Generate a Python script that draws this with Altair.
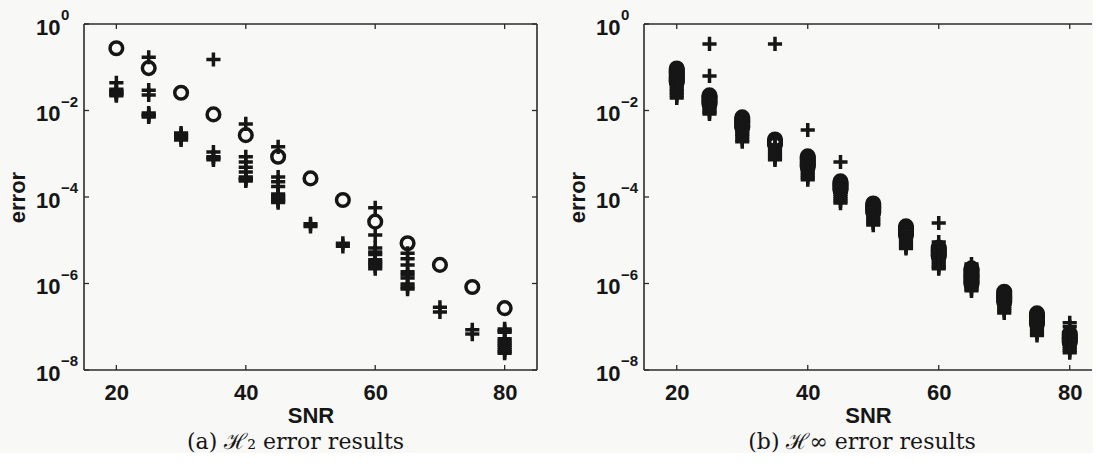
import altair as alt
import pandas as pd

# ---------------- data (errors stored as log10 exponents) ----------------
SNR = [20, 25, 30, 35, 40, 45, 50, 55, 60, 65, 70, 75, 80]
X_TICKS = [20, 40, 60, 80]
Y_TICK_EXP = [0, -2, -4, -6, -8]
Y_TICK_SUP = ["0", "\u22122", "\u22124", "\u22126", "\u22128"]

# (a) H2 error results
H2_CIRCLE_EXP = [
    [-0.56], [-1.02], [-1.59], [-2.09], [-2.57], [-3.07], [-3.57],
    [-4.07], [-4.57], [-5.07], [-5.57], [-6.08], [-6.57],
]
H2_PLUS_EXP = [
    [-1.36, -1.51, -1.54, -1.57, -1.60, -1.63, -1.66],
    [-0.77, -1.53, -1.64, -2.06, -2.09, -2.12, -2.15],
    [-2.52, -2.56, -2.60, -2.64, -2.68],
    [-0.82, -2.96, -3.07, -3.10, -3.14],
    [-2.31, -3.07, -3.19, -3.31, -3.42, -3.54, -3.57, -3.60, -3.63],
    [-2.84, -3.54, -3.65, -3.76, -3.93, -3.97, -4.01, -4.05, -4.09, -4.13],
    [-4.62, -4.68],
    [-5.07, -5.14],
    [-4.25, -4.88, -5.18, -5.27, -5.33, -5.45, -5.50, -5.55, -5.60, -5.66],
    [-5.30, -5.43, -5.57, -5.73, -5.80, -5.87, -6.01, -6.08, -6.13],
    [-6.55, -6.66],
    [-7.07, -7.17],
    [-7.05, -7.09, -7.13, -7.28, -7.33, -7.38, -7.43, -7.48, -7.53, -7.58, -7.61],
]

# (b) H-infinity error results
HINF_CIRCLE_EXP = [
    [-1.03, -1.07, -1.11, -1.15, -1.19, -1.23, -1.27, -1.31, -1.34],
    [-1.65, -1.69, -1.73, -1.77, -1.81, -1.85],
    [-2.16, -2.20, -2.24, -2.28, -2.32, -2.36, -2.39],
    [-2.67, -2.71, -2.75, -2.78],
    [-3.06, -3.10, -3.14, -3.18, -3.22, -3.26, -3.30],
    [-3.64, -3.68, -3.72, -3.76, -3.80, -3.84],
    [-4.15, -4.19, -4.23, -4.27, -4.31, -4.35],
    [-4.68, -4.72, -4.76, -4.80, -4.84, -4.88],
    [-5.17, -5.21, -5.25, -5.29, -5.33, -5.37],
    [-5.65, -5.69, -5.73, -5.77, -5.81, -5.85, -5.89, -5.93, -5.97, -6.01],
    [-6.19, -6.23, -6.27, -6.31, -6.35, -6.39, -6.43],
    [-6.69, -6.73, -6.77, -6.81, -6.85, -6.89, -6.93],
    [-7.16, -7.20, -7.24, -7.28, -7.32, -7.36],
]
HINF_PLUS_EXP = [
    [-1.30, -1.35, -1.40, -1.45, -1.50, -1.55, -1.60, -1.65, -1.71],
    [-0.46, -1.20, -1.80, -1.85, -1.90, -1.95, -2.00, -2.04, -2.08],
    [-2.40, -2.45, -2.50, -2.55, -2.60, -2.67, -2.72],
    [-0.46, -2.80, -2.85, -2.90, -2.95, -3.00, -3.05, -3.10, -3.14],
    [-2.45, -3.30, -3.35, -3.40, -3.45, -3.50, -3.55, -3.60],
    [-3.19, -3.84, -3.89, -3.94, -3.99, -4.04, -4.09, -4.14],
    [-4.35, -4.40, -4.45, -4.50, -4.55, -4.60, -4.65],
    [-4.90, -4.95, -5.00, -5.05, -5.10, -5.15, -5.19],
    [-4.60, -5.04, -5.37, -5.42, -5.47, -5.52, -5.57, -5.62, -5.66],
    [-5.55, -6.02, -6.08, -6.13, -6.17],
    [-6.43, -6.48, -6.53, -6.58, -6.63, -6.68],
    [-6.95, -7.00, -7.05, -7.10, -7.15, -7.20],
    [-6.91, -7.00, -7.30, -7.35, -7.40, -7.45, -7.50, -7.55, -7.60],
]

# ---------------- styling ----------------
INK = "#161616"
FRAME = "#2b2b2b"
BG = "#f8f8f6"
SANS = "Liberation Sans"
SERIF = "DejaVu Serif"
PLUS = "M-1,0L1,0M0,-1L0,1"
H = 346


def table(groups):
    rows = []
    for snr, vals in zip(SNR, groups):
        for v in vals:
            rows.append({"snr": snr, "err": 10.0 ** v})
    return pd.DataFrame(rows)


def panel(circ, plus, width, xmax, caption, dx, right_border):
    xs = alt.Scale(domain=[15, xmax], nice=False, zero=False)
    ys = alt.Scale(type="log", domain=[1e-8, 1], nice=False)
    xenc = alt.X(
        "snr:Q", scale=xs, title="SNR",
        axis=alt.Axis(values=X_TICKS, domain=False, ticks=False, tickSize=0, grid=False,
                      labelFont=SANS, labelFontWeight="bold", labelFontSize=22, labelColor=INK,
                      labelPadding=12, labelFlush=False,
                      titleFont=SANS, titleFontWeight="bold", titleFontSize=22, titleColor=INK,
                      titlePadding=2),
    )
    yenc = alt.Y(
        "err:Q", scale=ys, title="error",
        axis=alt.Axis(values=[10.0 ** e for e in Y_TICK_EXP], labelExpr="'10'",
                      domain=False, ticks=False, tickSize=0, grid=False,
                      labelFont=SANS, labelFontWeight="bold", labelFontSize=22, labelColor=INK,
                      labelPadding=24, labelOffset=3, labelFlush=False, labelOverlap=False,
                      titleFont=SANS, titleFontWeight="bold", titleFontSize=22, titleColor=INK,
                      titleX=-67, titleBaseline="middle"),
    )
    circles = alt.Chart(table(circ)).mark_point(
        shape="circle", filled=False, size=160, strokeWidth=3.5, color=INK, opacity=1
    ).encode(x=xenc, y=yenc)
    pluses = alt.Chart(table(plus)).mark_point(
        shape=PLUS, filled=False, size=200, strokeWidth=3.5, color=INK, opacity=1
    ).encode(x=xenc, y=yenc)

    xt = pd.DataFrame({"snr": X_TICKS})
    yt = pd.DataFrame({"err": [10.0 ** e for e in Y_TICK_EXP], "sup": Y_TICK_SUP})
    rule = dict(color=FRAME, strokeWidth=1.3)
    t_bottom = alt.Chart(xt).mark_rule(**rule).encode(x=xenc, y=alt.value(H), y2=alt.value(H - 5))
    t_top = alt.Chart(xt).mark_rule(**rule).encode(x=xenc, y=alt.value(0), y2=alt.value(5))
    t_left = alt.Chart(yt).mark_rule(**rule).encode(y=yenc, x=alt.value(0), x2=alt.value(5))
    layers = [circles, pluses, t_bottom, t_top, t_left]
    if right_border:
        layers.append(alt.Chart(yt).mark_rule(**rule).encode(y=yenc, x=alt.value(width - 5), x2=alt.value(width)))

    one = pd.DataFrame({"k": [0]})
    fr = dict(color=FRAME, strokeWidth=1.6)
    layers.append(alt.Chart(one).mark_rule(**fr).encode(x=alt.value(0), y=alt.value(0), y2=alt.value(H)))
    layers.append(alt.Chart(one).mark_rule(**fr).encode(x=alt.value(0), x2=alt.value(width), y=alt.value(0)))
    layers.append(alt.Chart(one).mark_rule(**fr).encode(x=alt.value(0), x2=alt.value(width), y=alt.value(H)))
    if right_border:
        layers.append(alt.Chart(one).mark_rule(**fr).encode(x=alt.value(width), y=alt.value(0), y2=alt.value(H)))

    sup = alt.Chart(yt).mark_text(
        align="left", baseline="middle", dy=-9, font=SANS, fontWeight="bold", fontSize=15, color=INK
    ).encode(y=yenc, x=alt.value(-23), text="sup:N")
    layers.append(sup)

    return alt.layer(*layers).properties(
        width=width, height=H,
        title=alt.TitleParams(caption, orient="bottom", anchor="middle", frame="group",
                              font=SERIF, fontSize=22, fontWeight="normal", color=INK,
                              dx=dx, offset=6),
    )


left = panel(H2_CIRCLE_EXP, H2_PLUS_EXP, 453, 85, "(a) \u210b\u2082 error results", -15, True)
right = panel(HINF_CIRCLE_EXP, HINF_PLUS_EXP, 448, 83.4, "(b) \u210b\u221e error results", -6, False)

chart = alt.hconcat(left, right, spacing=28).properties(
    padding={"left": 6, "top": 8, "right": 0, "bottom": 0}, background=BG
).configure_view(stroke=None)

chart.save("out.html", embed_options={"renderer": "svg", "actions": False})
